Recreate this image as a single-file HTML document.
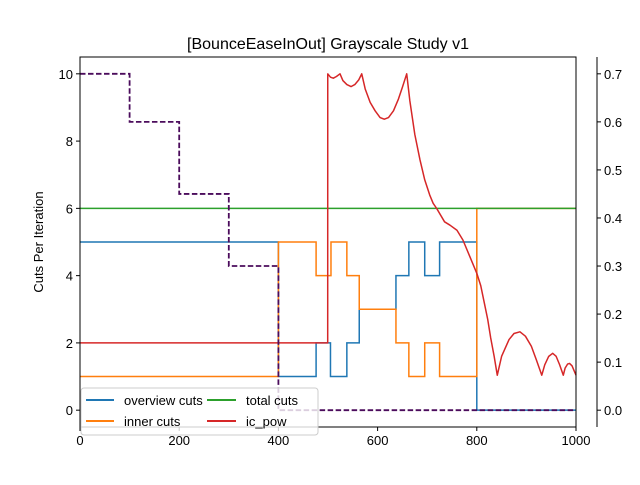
<!DOCTYPE html>
<html><head><meta charset="utf-8"><style>
body{margin:0;background:#fff}
svg text{font-family:"Liberation Sans","DejaVu Sans",sans-serif;font-size:13px;fill:#000}
</style></head><body>
<svg id="chart" width="640" height="480" xmlns="http://www.w3.org/2000/svg">
<rect width="640" height="480" fill="#fff"/>
<text x="328" y="49" text-anchor="middle" style="font-size:16px">[BounceEaseInOut] Grayscale Study v1</text>
<g id="plot"></g>
<g id="axes"></g>
<g id="legend">
<rect x="81" y="388" width="237" height="47" rx="3" fill="#fff" fill-opacity="0.8" stroke="#ccc"/>
<line x1="86" y1="400" x2="114" y2="400" stroke="#1f77b4" stroke-width="2"/>
<text x="124" y="405">overview cuts</text>
<line x1="86" y1="421" x2="114" y2="421" stroke="#ff7f0e" stroke-width="2"/>
<text x="124" y="426">inner cuts</text>
<line x1="207" y1="400" x2="236" y2="400" stroke="#2ca02c" stroke-width="2"/>
<text x="246" y="405">total cuts</text>
<line x1="207" y1="421" x2="236" y2="421" stroke="#d62728" stroke-width="2"/>
<text x="246" y="426">ic_pow</text>
</g>
</svg>
<script>
const xTicks=[0,200,400,600,800,1000];
const yTicks=[0,2,4,6,8,10];
const y2Ticks=[0.0,0.1,0.2,0.3,0.4,0.5,0.6,0.7];
const y2Labels=["0.0","0.1","0.2","0.3","0.4","0.5","0.6","0.7"];
const overviewX=[0,400,476,505,538,563,637,663,695,725,800,1000];
const overviewY=[5,1,2,1,2,3,4,5,4,5,0,0];
const innerX=[0,400,476,506,538,563,637,663,695,725,800,1000];
const innerY=[1,5,4,5,4,3,2,1,2,1,6,6];
const totalX=[0,1000];
const totalY=[6,6];
const dashX=[0,100,200,300,400,1000];
const dashY=[0.7,0.6,0.45,0.3,0,0];
const icX=[0,499.4,499.5,505,510.7,517,524.2,530,538,546.4,554,562,568,575,585,595,605,613.5,622,632,642,650,658.7,665,675,685.5,695,705,712,719,735,746,760,772,785,800,808,815,822,828,835,841.3,850,865,875,887,898,910,920,931,937,945,953,960,967,974.4,978,983,987,992,1000];
const icY=[2,2,10,9.9,9.87,9.92,10,9.8,9.68,9.62,9.68,9.82,10,9.55,9.15,8.9,8.7,8.65,8.7,8.9,9.25,9.6,10,9.2,8.2,7.44,6.85,6.4,6.15,6.0,5.6,5.5,5.35,5.06,4.6,4.07,3.7,3.2,2.7,2.15,1.6,1.04,1.6,2.1,2.28,2.33,2.2,1.9,1.5,1.04,1.35,1.6,1.69,1.6,1.35,1.04,1.25,1.37,1.39,1.32,1.04];
const X0=80,X1=576,Y0=427,Y1=57;
const sx=v=>X0+(v-0)/(1000)*(X1-X0);
const sy=v=>Y0-(v+0.5)/11*(Y0-Y1);
const sy2=v=>Y0-(v+0.035)/0.77*(Y0-Y1);
const NS="http://www.w3.org/2000/svg";
function mk(tag,parent){const e=document.createElementNS(NS,tag);parent.appendChild(e);return e;}
const plot=document.getElementById('plot');
const axes=document.getElementById('axes');
function stepPath(xs,ys,fy){let d='M'+sx(xs[0])+','+fy(ys[0]);for(let i=1;i<xs.length;i++){d+='H'+sx(xs[i]);if(i<xs.length-1)d+='V'+fy(ys[i]);}return d;}
function linePath(xs,ys,fy){return xs.map((x,i)=>(i?'L':'M')+sx(x)+','+fy(ys[i])).join('');}
let p;
p=mk('path',plot);p.setAttribute('d',stepPath(overviewX,overviewY,sy));p.setAttribute('stroke','#1f77b4');p.setAttribute('fill','none');p.setAttribute('stroke-width','1.5');


p=mk('path',plot);p.setAttribute('d',stepPath(innerX,innerY,sy));p.setAttribute('stroke','#ff7f0e');p.setAttribute('fill','none');p.setAttribute('stroke-width','1.5');


p=mk('path',plot);p.setAttribute('d',linePath(totalX,totalY,sy));p.setAttribute('stroke','#2ca02c');p.setAttribute('fill','none');p.setAttribute('stroke-width','1.5');


p=mk('path',plot);p.setAttribute('d',linePath(icX,icY,sy));p.setAttribute('stroke','#d62728');p.setAttribute('fill','none');p.setAttribute('stroke-width','1.5');p.setAttribute('stroke-linejoin','round');


p=mk('path',plot);p.setAttribute('d',stepPath(dashX,dashY,sy2));p.setAttribute('stroke','#4b0c5c');p.setAttribute('fill','none');p.setAttribute('stroke-width','1.8');p.setAttribute('stroke-dasharray','5.5,2.5');


let r=mk('rect',axes);r.setAttribute('x',X0);r.setAttribute('y',Y1);r.setAttribute('width',X1-X0);r.setAttribute('height',Y0-Y1);r.setAttribute('fill','none');r.setAttribute('stroke','#000');r.setAttribute('stroke-width','1');


let l=mk('line',axes);l.setAttribute('x1',597);l.setAttribute('x2',597);l.setAttribute('y1',Y1);l.setAttribute('y2',Y0);l.setAttribute('stroke','#000');


xTicks.forEach(v=>{const t=mk('line',axes);t.setAttribute('x1',sx(v));t.setAttribute('x2',sx(v));t.setAttribute('y1',Y0);t.setAttribute('y2',Y0+4);t.setAttribute('stroke','#000');


const tx=mk('text',axes);tx.setAttribute('x',sx(v));tx.setAttribute('y',Y0+18);tx.setAttribute('text-anchor','middle');tx.textContent=v;

});
yTicks.forEach(v=>{const t=mk('line',axes);t.setAttribute('x1',X0-4);t.setAttribute('x2',X0);t.setAttribute('y1',sy(v));t.setAttribute('y2',sy(v));t.setAttribute('stroke','#000');


const tx=mk('text',axes);tx.setAttribute('x',X0-7);tx.setAttribute('y',sy(v)+5);tx.setAttribute('text-anchor','end');tx.textContent=v;

});
y2Ticks.forEach((v,i)=>{const t=mk('line',axes);t.setAttribute('x1',597);t.setAttribute('x2',601);t.setAttribute('y1',sy2(v));t.setAttribute('y2',sy2(v));t.setAttribute('stroke','#000');


const tx=mk('text',axes);tx.setAttribute('x',604);tx.setAttribute('y',sy2(v)+5);tx.textContent=y2Labels[i];

});
const yl=mk('text',axes);yl.setAttribute('transform','translate(43,242) rotate(-90)');yl.setAttribute('text-anchor','middle');yl.textContent='Cuts Per Iteration';


</script>
</body></html>
